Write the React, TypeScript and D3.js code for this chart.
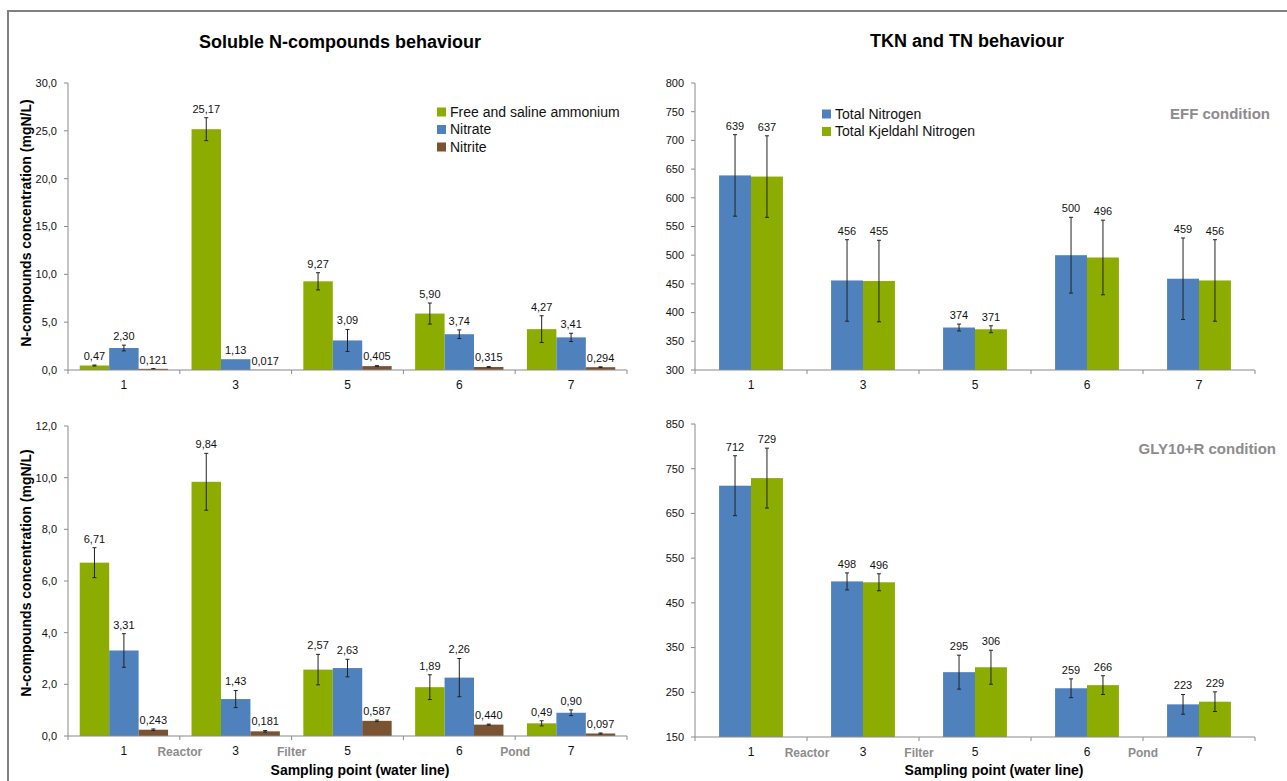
import * as d3 from "d3";

// sampling points along the water line
const categories = ["1", "3", "5", "6", "7"];
const stageLabels = ["Reactor", "Filter", "", "Pond"]; // between consecutive points

const solubleSeries = ["Free and saline ammonium", "Nitrate", "Nitrite"];
const solubleColors = ["#8CAD00", "#4F81BD", "#7A5432"];
const solubleDecimals = [2, 2, 3];

const tknSeries = ["Total Nitrogen", "Total Kjeldahl Nitrogen"];
const tknColors = ["#4F81BD", "#8CAD00"];
const tknDecimals = [0, 0];

// EFF condition, soluble compounds (mgN/L)
const effAmmonium = [0.47, 25.17, 9.27, 5.9, 4.27];
const effAmmoniumErr = [0.05, 1.2, 0.9, 1.1, 1.4];
const effNitrate = [2.3, 1.13, 3.09, 3.74, 3.41];
const effNitrateErr = [0.3, 0, 1.15, 0.45, 0.43];
const effNitrite = [0.121, 0.017, 0.405, 0.315, 0.294];
const effNitriteErr = [0.02, 0, 0.05, 0.04, 0.04];

// GLY10+R condition, soluble compounds (mgN/L)
const glyAmmonium = [6.71, 9.84, 2.57, 1.89, 0.49];
const glyAmmoniumErr = [0.58, 1.1, 0.59, 0.48, 0.1];
const glyNitrate = [3.31, 1.43, 2.63, 2.26, 0.9];
const glyNitrateErr = [0.65, 0.33, 0.34, 0.74, 0.11];
const glyNitrite = [0.243, 0.181, 0.587, 0.44, 0.097];
const glyNitriteErr = [0.03, 0.03, 0.03, 0.02, 0.02];

// EFF condition, TN and TKN
const effTN = [639, 456, 374, 500, 459];
const effTNErr = [71, 71, 6, 66, 71];
const effTKN = [637, 455, 371, 496, 456];
const effTKNErr = [71, 71, 6, 65, 71];

// GLY10+R condition, TN and TKN
const glyTN = [712, 498, 295, 259, 223];
const glyTNErr = [67, 19, 38, 21, 22];
const glyTKN = [729, 496, 306, 266, 229];
const glyTKNErr = [67, 19, 38, 21, 22];

const leftTicks = [0, 2, 4, 6, 8, 10, 12];
const topLeftTicks = [0, 5, 10, 15, 20, 25, 30];
const topRightTicks = [300, 350, 400, 450, 500, 550, 600, 650, 700, 750, 800];
const bottomRightTicks = [150, 250, 350, 450, 550, 650, 750, 850];

const FONT = "'Liberation Sans', Arial, sans-serif";
const AXIS = "#8A8A8A";
const GREY_TEXT = "#8C8C8C";

const comma = (v: number, d: number) => v.toFixed(d).replace(".", ",");

type PanelProps = {
  x0: number;
  x1: number;
  yTop: number;
  yBottom: number;
  domain: [number, number];
  ticks: number[];
  tickDecimals: number;
  values: number[][];
  errors: number[][];
  colors: string[];
  decimals: number[];
  groupFrac: number;
  showStages: boolean;
};

const Panel = (p: PanelProps) => {
  const x = d3.scaleBand<string>().domain(categories).range([p.x0, p.x1]).padding(0);
  const bw = x.bandwidth();
  const gw = bw * p.groupFrac;
  const inner = d3
    .scaleBand<number>()
    .domain(p.values.map((_, i) => i))
    .range([(bw - gw) / 2, (bw + gw) / 2])
    .padding(0);
  const y = d3.scaleLinear().domain(p.domain).range([p.yBottom, p.yTop]);
  const boundaries = d3.range(categories.length + 1).map((i) => p.x0 + i * x.step());

  return (
    <g fontFamily={FONT}>
      {/* y axis */}
      <line x1={p.x0} x2={p.x0} y1={p.yTop} y2={p.yBottom} stroke={AXIS} />
      {p.ticks.map((t) => (
        <g key={t}>
          <line x1={p.x0 - 4} x2={p.x0} y1={y(t)} y2={y(t)} stroke={AXIS} />
          <text x={p.x0 - 11} y={y(t)} dy="0.35em" textAnchor="end" fontSize={11} fill="#111">
            {comma(t, p.tickDecimals)}
          </text>
        </g>
      ))}
      {/* bars */}
      {p.values.map((series, si) =>
        series.map((v, ci) => {
          const bx = (x(categories[ci]) ?? 0) + (inner(si) ?? 0);
          const w = inner.bandwidth();
          const cx = bx + w / 2;
          const e = p.errors[si][ci];
          return (
            <g key={si + "-" + ci}>
              <rect x={bx} y={y(v)} width={w} height={p.yBottom - y(v)} fill={p.colors[si]} />
              {e > 0 && (
                <g stroke="#222" strokeWidth={1}>
                  <line x1={cx} x2={cx} y1={y(v + e)} y2={y(v - e)} />
                  <line x1={cx - 2} x2={cx + 2} y1={y(v + e)} y2={y(v + e)} />
                  <line x1={cx - 2} x2={cx + 2} y1={y(v - e)} y2={y(v - e)} />
                </g>
              )}
              <text x={cx} y={y(v + e) - 9} dy="0.35em" textAnchor="middle" fontSize={11} fill="#111">
                {comma(v, p.decimals[si])}
              </text>
            </g>
          );
        })
      )}
      {/* x axis */}
      <line x1={p.x0} x2={p.x1} y1={p.yBottom} y2={p.yBottom} stroke={AXIS} />
      {boundaries.map((bx, i) => (
        <line key={i} x1={bx} x2={bx} y1={p.yBottom} y2={p.yBottom + 4} stroke={AXIS} />
      ))}
      {categories.map((c) => (
        <text key={c} x={(x(c) ?? 0) + bw / 2} y={p.yBottom + 15} dy="0.35em" textAnchor="middle" fontSize={12} fill="#111">
          {c}
        </text>
      ))}
      {p.showStages &&
        stageLabels.map((s, i) =>
          s ? (
            <text key={s} x={boundaries[i + 1]} y={p.yBottom + 16} dy="0.35em" textAnchor="middle" fontSize={12} fontWeight="bold" fill={GREY_TEXT}>
              {s}
            </text>
          ) : null
        )}
    </g>
  );
};

const Legend = ({ x, y, names, colors, gap }: { x: number; y: number; names: string[]; colors: string[]; gap: number }) => (
  <g fontFamily={FONT}>
    {names.map((n, i) => (
      <g key={n} transform={`translate(${x},${y + i * gap})`}>
        <rect x={0} y={-4.5} width={9} height={9} fill={colors[i]} />
        <text x={13} y={0} dy="0.35em" fontSize={14} fill="#111">
          {n}
        </text>
      </g>
    ))}
  </g>
);

export default function App() {
  return (
    <svg width={1287} height={781} style={{ position: "absolute", left: 0, top: 0, background: "#fff" }}>
      <rect x={8} y={11} width={1400} height={900} fill="none" stroke="#808080" strokeWidth={2} />

      <text x={340} y={42} dy="0.35em" textAnchor="middle" fontFamily={FONT} fontSize={18} fontWeight="bold">
        Soluble N-compounds behaviour
      </text>
      <text x={967} y={41} dy="0.35em" textAnchor="middle" fontFamily={FONT} fontSize={18} fontWeight="bold">
        TKN and TN behaviour
      </text>

      <Panel
        x0={68} x1={627} yTop={83} yBottom={370}
        domain={[0, 30]} ticks={topLeftTicks} tickDecimals={1}
        values={[effAmmonium, effNitrate, effNitrite]}
        errors={[effAmmoniumErr, effNitrateErr, effNitriteErr]}
        colors={solubleColors} decimals={solubleDecimals}
        groupFrac={0.79} showStages={false}
      />
      <Panel
        x0={695} x1={1255} yTop={83} yBottom={370}
        domain={[300, 800]} ticks={topRightTicks} tickDecimals={0}
        values={[effTN, effTKN]}
        errors={[effTNErr, effTKNErr]}
        colors={tknColors} decimals={tknDecimals}
        groupFrac={0.57} showStages={false}
      />
      <Panel
        x0={68} x1={627} yTop={426} yBottom={736}
        domain={[0, 12]} ticks={leftTicks} tickDecimals={1}
        values={[glyAmmonium, glyNitrate, glyNitrite]}
        errors={[glyAmmoniumErr, glyNitrateErr, glyNitriteErr]}
        colors={solubleColors} decimals={solubleDecimals}
        groupFrac={0.79} showStages={true}
      />
      <Panel
        x0={695} x1={1255} yTop={424} yBottom={737}
        domain={[150, 850]} ticks={bottomRightTicks} tickDecimals={0}
        values={[glyTN, glyTKN]}
        errors={[glyTNErr, glyTKNErr]}
        colors={tknColors} decimals={tknDecimals}
        groupFrac={0.57} showStages={true}
      />

      <Legend x={437} y={112} names={solubleSeries} colors={solubleColors} gap={17.5} />
      <Legend x={822} y={114} names={tknSeries} colors={tknColors} gap={17.5} />

      <text x={1270} y={114} dy="0.35em" textAnchor="end" fontFamily={FONT} fontSize={15} fontWeight="bold" fill={GREY_TEXT}>
        EFF condition
      </text>
      <text x={1276} y={449} dy="0.35em" textAnchor="end" fontFamily={FONT} fontSize={15} fontWeight="bold" fill={GREY_TEXT}>
        GLY10+R condition
      </text>

      {[223, 573].map((cy) => (
        <text key={cy} transform={`translate(26,${cy}) rotate(-90)`} dy="0.35em" textAnchor="middle" fontFamily={FONT} fontSize={14} fontWeight="bold">
          N-compounds concentration (mgN/L)
        </text>
      ))}
      {[360, 994].map((cx) => (
        <text key={cx} x={cx} y={770} dy="0.35em" textAnchor="middle" fontFamily={FONT} fontSize={14} fontWeight="bold">
          Sampling point (water line)
        </text>
      ))}
    </svg>
  );
}
